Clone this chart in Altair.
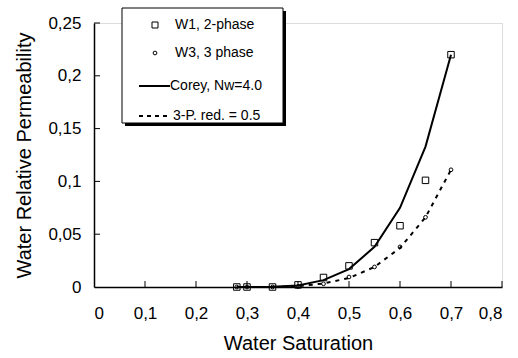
import altair as alt
import pandas as pd

# ---- data ----
sw = [0.28, 0.30, 0.35, 0.40, 0.45, 0.50, 0.55, 0.60, 0.65, 0.70]
w1_2phase = [0.0, 0.0, 0.0, 0.002, 0.009, 0.020, 0.042, 0.058, 0.101, 0.220]
w3_3phase = [0.0, 0.0, 0.0, 0.0005, 0.003, 0.0095, 0.019, 0.038, 0.066, 0.111]
corey = [0.0, 0.0, 0.0002, 0.0015, 0.0065, 0.017, 0.038, 0.075, 0.133, 0.220]
red3p = [0.0, 0.0, 0.0001, 0.0008, 0.0033, 0.0085, 0.019, 0.037, 0.066, 0.111]

x_ticks = [0, 0.1, 0.2, 0.3, 0.4, 0.5, 0.6, 0.7, 0.8]
y_ticks = [0, 0.05, 0.1, 0.15, 0.2, 0.25]
legend_labels = ["W1, 2-phase", "W3, 3 phase", "Corey, Nw=4.0", "3-P. red. = 0.5"]

FONT = "Liberation Sans"
W, H = 408, 264

df = pd.DataFrame({"sw": sw, "w1": w1_2phase, "w3": w3_3phase,
                   "corey": corey, "red": red3p})

label_expr = "replace(format(datum.value, '.2~f'), '.', ',')"

xs = alt.Scale(domain=[0, 0.8], nice=False, zero=False)
ys = alt.Scale(domain=[0, 0.25], nice=False, zero=False)

x_axis = alt.Axis(values=x_ticks, labelExpr=label_expr, ticks=False, grid=False,
                  domainColor="black", domainWidth=1.5, labelPadding=18,
                  labelFontSize=17, labelFont=FONT, labelColor="black",
                  title="Water Saturation", titleFont=FONT, titleFontSize=20,
                  titleFontWeight="normal", titleColor="black", titlePadding=12)
y_axis = alt.Axis(values=y_ticks, labelExpr=label_expr, ticks=False, grid=False,
                  domainColor="black", domainWidth=1.5, labelPadding=13,
                  labelFontSize=17, labelFont=FONT, labelColor="black",
                  title="Water Relative Permeability", titleFont=FONT,
                  titleFontSize=20, titleFontWeight="normal", titleColor="black",
                  titlePadding=13)

base = alt.Chart(df)

corey_line = base.mark_line(color="black", strokeWidth=2).encode(
    x=alt.X("sw:Q", scale=xs, axis=x_axis),
    y=alt.Y("corey:Q", scale=ys, axis=y_axis),
)
red_line = base.mark_line(color="black", strokeWidth=2, strokeDash=[4, 5]).encode(
    x=alt.X("sw:Q", scale=xs), y=alt.Y("red:Q", scale=ys))
sq = base.mark_point(shape="square", size=42, filled=False, color="black",
                     strokeWidth=1, opacity=1).encode(
    x=alt.X("sw:Q", scale=xs), y=alt.Y("w1:Q", scale=ys))
ci = base.mark_point(shape="circle", size=14, filled=False, color="black",
                     strokeWidth=1, opacity=1).encode(
    x=alt.X("sw:Q", scale=xs), y=alt.Y("w3:Q", scale=ys))

# inward ticks
xt = alt.Chart(pd.DataFrame({"t": x_ticks[1:]})).mark_rule(color="black", strokeWidth=1).encode(
    x=alt.X("t:Q", scale=xs), y=alt.value(H), y2=alt.value(H - 6))
yt = alt.Chart(pd.DataFrame({"t": y_ticks[1:]})).mark_rule(color="black", strokeWidth=1).encode(
    y=alt.Y("t:Q", scale=ys), x=alt.value(0), x2=alt.value(6))

# legend box with shadow
one = pd.DataFrame({"a": [0]})
shadow = alt.Chart(one).mark_rect(color="black").encode(
    x=alt.value(31), x2=alt.value(192), y=alt.value(-12), y2=alt.value(103))
box = alt.Chart(one).mark_rect(fill="white", stroke="black", strokeWidth=1).encode(
    x=alt.value(28), x2=alt.value(189), y=alt.value(-15), y2=alt.value(100))

leg_sq = alt.Chart(one).mark_point(shape="square", size=36, filled=False, color="black",
                                   strokeWidth=1, opacity=1).encode(
    x=alt.value(61), y=alt.value(2))
leg_ci = alt.Chart(one).mark_point(shape="circle", size=14, filled=False, color="black",
                                   strokeWidth=1, opacity=1).encode(
    x=alt.value(61), y=alt.value(30))
leg_l1 = alt.Chart(one).mark_rule(color="black", strokeWidth=2).encode(
    x=alt.value(45), x2=alt.value(76), y=alt.value(63))
leg_l2 = alt.Chart(one).mark_rule(color="black", strokeWidth=2, strokeDash=[4, 4]).encode(
    x=alt.value(45), x2=alt.value(76), y=alt.value(93))

def leg_text(label, x, y):
    return alt.Chart(pd.DataFrame({"label": [label]})).mark_text(
        align="left", baseline="middle", font=FONT, fontSize=14, color="black").encode(
        x=alt.value(x), y=alt.value(y), text="label:N")

texts = [leg_text(legend_labels[0], 81, 2), leg_text(legend_labels[1], 81, 30),
         leg_text(legend_labels[2], 76, 63), leg_text(legend_labels[3], 79, 93)]

chart = alt.layer(corey_line, red_line, sq, ci, xt, yt, shadow, box,
                  leg_sq, leg_ci, leg_l1, leg_l2, *texts).properties(
    width=W, height=H,
    autosize=alt.AutoSizeParams(type="none"),
    padding={"left": 94, "top": 23, "right": 16, "bottom": 71},
).configure_view(stroke=None).configure(background="white")

chart.save("out.html", embed_options={"renderer": "svg", "actions": False})
